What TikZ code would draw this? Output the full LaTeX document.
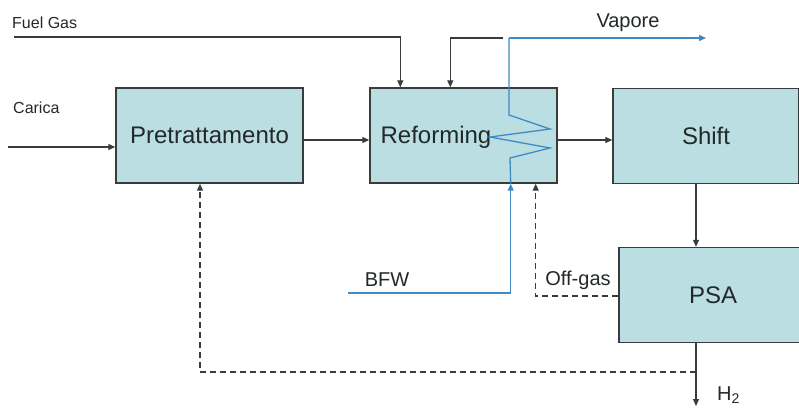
\documentclass[tikz,border=0pt]{standalone}
\usepackage{fontspec}
\setmainfont{Liberation Sans}
\usetikzlibrary{arrows.meta,calc}
\definecolor{boxfill}{RGB}{186,222,226}
\definecolor{boxline}{RGB}{55,60,60}
\definecolor{steam}{RGB}{62,138,196}
\definecolor{txt}{RGB}{35,40,40}
\begin{document}
\begin{tikzpicture}[x=1pt,y=-1pt,
  box/.style={draw=boxline,fill=boxfill,line width=1.4pt,minimum width=#1,minimum height=95pt,inner sep=0pt,text=txt,font=\fontsize{24}{28}\selectfont},
  boxtxt/.style={text=txt,font=\fontsize{24}{28}\selectfont,inner sep=0pt},
  lbl/.style={text=txt,inner sep=0pt,font=\fontsize{16}{19}\selectfont},
  biglbl/.style={text=txt,inner sep=0pt,font=\fontsize{20}{24}\selectfont},
  tip/.style={-{Triangle[length=7pt,width=6pt]}},
  flow/.style={draw=boxline,line width=1.2pt,tip},
  plain/.style={draw=boxline,line width=1.2pt},
  dflow/.style={draw=boxline,line width=1.2pt,dash pattern=on 6pt off 4pt,tip},
  steamflow/.style={draw=steam,line width=1.3pt,tip},
  steamline/.style={draw=steam,line width=1.3pt,line join=miter}]
\useasboundingbox (0,0) rectangle (799,408);
\fill[white] (0,0) rectangle (799,408);

% boxes
\node[box=187pt] (pre) at (209.5,135.5) {Pretrattamento};
\node[box=187pt] (ref) at (463.5,135.5) {};
\node[boxtxt] (reftxt) at (436,137) {Reforming};
\node[box=186pt] (shift) at (706,136) {Shift};
\node[box=188pt] (psa) at (713,295) {PSA};

% labels
\node[lbl,anchor=west] (fuel) at (12,23) {Fuel Gas};
\node[lbl,anchor=west] (carica) at (13,108) {Carica};
\node[biglbl] (vap) at (628,23) {Vapore};
\node[biglbl] (bfw) at (387,280) {BFW};
\node[biglbl] (off) at (578,280) {Off-gas};
\node[biglbl,anchor=west] (h2) at (717,395) {H\textsubscript{2}};

% free ends
\coordinate (fg) at (14,37);
\coordinate (ca) at (8,147);
\coordinate (rec) at (503,38);
\coordinate (vapend) at (706,38);
\coordinate (bfwstart) at (348,293);
\coordinate (h2end) at (696,406);
\coordinate (h2split) at (696,372);

% main connectors
\draw[flow] (fg) -| ([xshift=31pt]ref.north west);
\draw[flow] (rec) -| ([xshift=81pt]ref.north west);
\draw[flow] (ca) -- (ca -| pre.west);
\draw[flow] ([yshift=-4.5pt]pre.east) -- ([yshift=-4.5pt]ref.west);
\draw[flow] ([yshift=-4.5pt]ref.east) -- ([yshift=-4pt]shift.west);
\draw[flow] ([xshift=-10pt]shift.south) -- ([xshift=-17pt]psa.north);
\draw[plain] ([xshift=-17pt]psa.south) -- (h2split);
\draw[flow] (h2split) -- (h2end);
\draw[dflow] (h2split) -| ([xshift=-9.5pt]pre.south);
\draw[dflow] ([yshift=-1pt]psa.west) -| ([xshift=-22pt]ref.south east);

% steam
\draw[steamflow] (bfwstart) -| ([xshift=-47pt]ref.south east);
\draw[steamline] ([xshift=-47pt]ref.south east) -- (510,158) -- (550,148) -- (490,137) -- (550,129) -- (509,115) -- (509,38);
\draw[steamflow] (509,38) -- (vapend);
\end{tikzpicture}
\end{document}
